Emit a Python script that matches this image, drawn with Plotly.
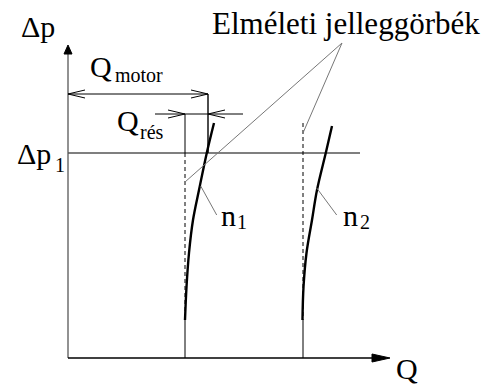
import plotly.graph_objects as go

# ---- data (Q, Δp in diagram units; origin at axis corner) ----
q_axis_end = 322
dp_axis_end = 313
dp1 = 205                 # Δp1 level
dp1_line_end = 292
q_motor = 140
q_motor_level = 264
q_res_from, q_res_to = 117, 140
q_res_level = 244
q_res_line = [87, 175]

q_theor = [117, 235]                  # theoretical (dashed) curves
theor_top = [205, 235]
theor_bottom = 38

n1_q = [117, 118.5, 121, 125, 131, 139, 146]
n1_dp = [38, 71, 105, 138, 168, 206, 235]
n2_q = [234.5, 235.5, 238.5, 244, 249, 258, 264]
n2_dp = [38, 71, 105, 138, 168, 206, 232]

label_anchor = (274, 315)
label_targets_q = [117, 235]
label_targets_dp = [176, 225]

n_ptr_from_q = [132.7, 248.7]
n_ptr_from_dp = [172, 170]
n_ptr_to_q = [148.7, 268.7]
n_ptr_to_dp = [143, 143]

title_text = "Elméleti jelleggörbék"

FONT = "Liberation Serif, Times New Roman, DejaVu Serif, serif"
fig = go.Figure()

def line(xs, ys, color="black", width=1.2, dash=None, shape="linear"):
    fig.add_trace(go.Scatter(x=xs, y=ys, mode="lines", hoverinfo="skip",
                             line=dict(color=color, width=width, dash=dash, shape=shape),
                             showlegend=False))

def tri(xs, ys):
    fig.add_trace(go.Scatter(x=xs, y=ys, mode="lines", fill="toself", fillcolor="black",
                             line=dict(color="black", width=1), hoverinfo="skip",
                             showlegend=False))

# axes
line([0, 0], [0, dp_axis_end - 9], color="#777777", width=1.6)
tri([0, -4, 4, 0], [dp_axis_end, dp_axis_end - 9, dp_axis_end - 9, dp_axis_end])
line([0, q_axis_end - 18], [0, 0], color="black", width=1.6)
tri([q_axis_end, q_axis_end - 18, q_axis_end - 18, q_axis_end], [0, 4, -4, 0])

# Δp1 level
line([0, dp1_line_end], [dp1, dp1], color="#555555", width=1.4)

# Q_motor dimension
line([0, q_motor], [q_motor_level, q_motor_level], width=1)
AL, AW = 17, 4
line([AL, 0, AL], [q_motor_level + AW, q_motor_level, q_motor_level - AW], width=1)
line([q_motor - AL, q_motor, q_motor - AL], [q_motor_level + AW, q_motor_level, q_motor_level - AW], width=1)
line([q_motor, q_motor], [q_motor_level, dp1], width=1.4)

# Q_rés dimension
line(q_res_line, [q_res_level, q_res_level], width=1)
line([q_res_from - AL, q_res_from, q_res_from - AL], [q_res_level + AW, q_res_level, q_res_level - AW], width=1)
line([q_res_to + AL, q_res_to, q_res_to + AL], [q_res_level + AW, q_res_level, q_res_level - AW], width=1)
line([q_res_from, q_res_from], [q_res_level, dp1], width=1)

# theoretical curves (dashed) and bottom solid parts
for qt, top in zip(q_theor, theor_top):
    line([qt, qt], [top, theor_bottom], width=1, dash="4px,3px")
    line([qt, qt], [theor_bottom, 0], width=1)

# real characteristic curves
line(n1_q, n1_dp, width=2.4, shape="spline")
line(n2_q, n2_dp, width=2.4, shape="spline")

# pointer lines to theoretical curves
for tq, tdp in zip(label_targets_q, label_targets_dp):
    line([label_anchor[0], tq], [label_anchor[1], tdp], color="#777777", width=1)

# n pointers
for a, b, c, d in zip(n_ptr_from_q, n_ptr_from_dp, n_ptr_to_q, n_ptr_to_dp):
    line([a, c], [b, d], color="#777777", width=1)

def txt(x, y, s, size, xanchor="center", yanchor="middle"):
    fig.add_annotation(x=x, y=y, text=s, showarrow=False, xanchor=xanchor, yanchor=yanchor,
                       font=dict(family=FONT, size=size, color="black"))

BIG = 30
SUB = 20
txt(-30, 332, "Δp", BIG)
txt(-34, 205, "Δp", BIG)
txt(-8, 193, "1", SUB)
txt(33, 292, "Q", BIG)
txt(71, 283, "motor", SUB)
txt(60, 238, "Q", BIG)
txt(84, 226, "rés", SUB)
txt(278, 335, title_text, 31)
txt(160, 143, "n", BIG)
txt(174, 136, "1", SUB)
txt(282, 143, "n", BIG)
txt(297, 136, "2", SUB)
txt(339, -10, "Q", BIG)

fig.update_layout(width=485, height=385, margin=dict(l=0, r=0, t=0, b=0),
                  paper_bgcolor="white", plot_bgcolor="white",
                  xaxis=dict(range=[-68, 417], visible=False, fixedrange=True),
                  yaxis=dict(range=[-27, 358], visible=False, fixedrange=True))
fig.write_html("out.html", config={"displayModeBar": False},
               post_script="document.body.style.margin='0';document.body.style.overflow='hidden';")
